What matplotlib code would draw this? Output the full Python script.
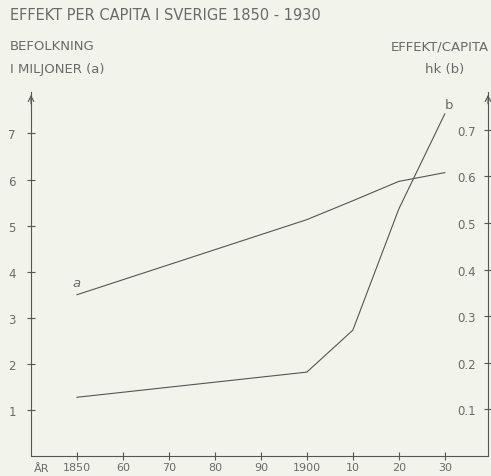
import matplotlib.pyplot as plt

# data
years = [1850, 1900, 1910, 1920, 1930]
befolkning = [3.5, 5.13, 5.54, 5.96, 6.15]      # miljoner (a)
effekt = [0.126, 0.18, 0.27, 0.53, 0.734]       # hk per capita (b)

xticks = [1850, 1860, 1870, 1880, 1890, 1900, 1910, 1920, 1930]
xlabels = ['1850', '60', '70', '80', '90', '1900', '10', '20', '30']
left_ticks = [1, 2, 3, 4, 5, 6, 7]
right_ticks = [0.1, 0.2, 0.3, 0.4, 0.5, 0.6, 0.7]
right_labels = ['0.1', '0.2', '0.3', '0.4', '0.5', '0.6', '0.7']

bg = '#f2f4ec'
ink = '#555555'
txt = '#6a6a6a'
plt.rcParams['font.family'] = 'DejaVu Sans'

fig = plt.figure(figsize=(4.91, 4.77), dpi=100, facecolor=bg)
ax = fig.add_axes([31 / 491, 20 / 477, 457 / 491, 364 / 477])
ax.set_facecolor(bg)
ax.set_xlim(1840, 1939.4)
ax.set_ylim(0, 7.9)

ax.plot(years, befolkning, color=ink, lw=0.8)

for s in ['top', 'right']:
    ax.spines[s].set_visible(False)
for s in ['left', 'bottom']:
    ax.spines[s].set_color(ink)
    ax.spines[s].set_linewidth(0.8)

ax.set_xticks(xticks)
ax.set_xticklabels(xlabels)
ax.set_yticks(left_ticks)
ax.tick_params(direction='inout', length=6, width=0.8, colors=ink,
               labelcolor=txt, labelsize=8.5)
ax.tick_params(axis='y', pad=8)
ax.tick_params(axis='x', pad=1, labelsize=8)

ax2 = ax.twinx()
ax2.set_ylim(0, 0.781)
ax2.plot(years, effekt, color=ink, lw=0.8)
for s in ['top', 'left', 'bottom']:
    ax2.spines[s].set_visible(False)
ax2.spines['right'].set_color(ink)
ax2.spines['right'].set_linewidth(0.8)
ax2.set_yticks(right_ticks)
ax2.set_yticklabels(right_labels)
ax2.tick_params(direction='inout', length=6, width=0.8, colors=ink,
                labelcolor=txt, labelsize=8.5, pad=-25)

# arrows on top of both vertical axes
for xa in [0, 1]:
    ax.annotate('', xy=(xa, 1.0), xytext=(xa, 0.96), xycoords='axes fraction',
                arrowprops=dict(arrowstyle='->', color=ink, lw=0.8))

ax.text(1850, 3.7, 'a', color=txt, fontsize=9.5, style='italic', ha='center')
ax.text(1931, 7.55, 'b', color=txt, fontsize=9.5, ha='center')

fig.text(10 / 491, 1 - 16 / 477, 'EFFEKT PER CAPITA I SVERIGE 1850 - 1930',
         color=txt, fontsize=10.5, va='center')
fig.text(10 / 491, 1 - 47 / 477, 'BEFOLKNING', color=txt, fontsize=9.5, va='center')
fig.text(10 / 491, 1 - 70 / 477, 'I MILJONER (a)', color=txt, fontsize=9.5, va='center')
fig.text(489 / 491, 1 - 47 / 477, 'EFFEKT/CAPITA', color=txt, fontsize=9.5,
         va='center', ha='right')
fig.text(445 / 491, 1 - 70 / 477, 'hk (b)', color=txt, fontsize=9.5,
         va='center', ha='center')
fig.text(42 / 491, 1 - 469 / 477, 'ÅR', color=txt, fontsize=8,
         va='center', ha='center')

fig.savefig('out.png', dpi=100, facecolor=bg)
